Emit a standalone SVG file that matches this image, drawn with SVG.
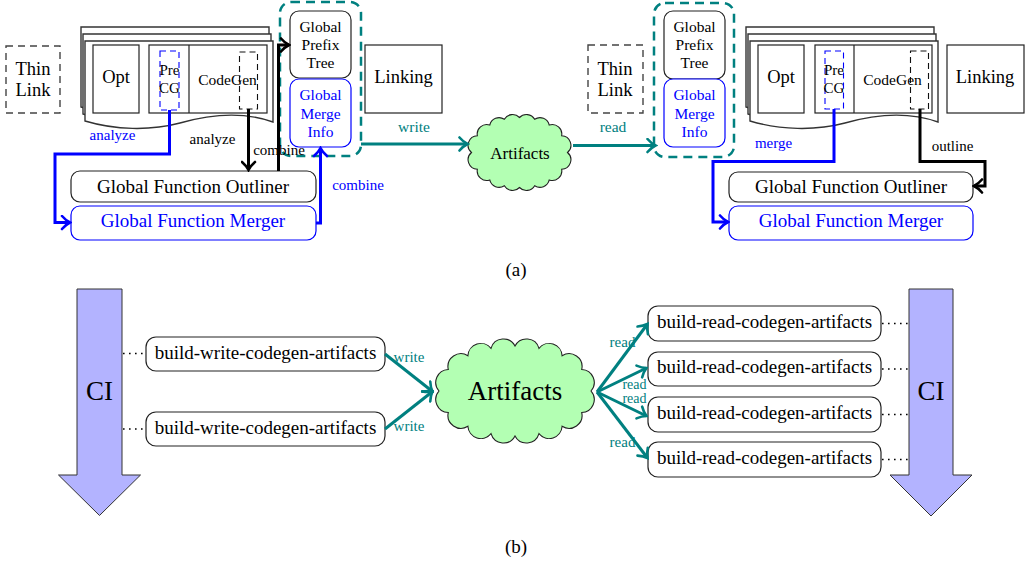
<svg xmlns="http://www.w3.org/2000/svg" width="1034" height="566" viewBox="0 0 1034 566">
<style>
text{font-family:"Liberation Serif","Times New Roman",serif;text-anchor:middle}
.k{fill:#000}
.b{fill:#0000ff}
.tl{fill:#008080}
.box{fill:#fff;stroke:#222;stroke-width:1.2}
.bbox{fill:#fff;stroke:#0000ff;stroke-width:1.2}
.thin{fill:none;stroke:#444;stroke-width:1.4;stroke-dasharray:7 5}
.sheet{fill:#fff;stroke:#333;stroke-width:1.4}
.bd{fill:none;stroke:#0000ff;stroke-width:1.1;stroke-dasharray:6 4}
.kd{fill:none;stroke:#111;stroke-width:1.1;stroke-dasharray:6 4}
.cont{fill:none;stroke:#008080;stroke-width:2.5;stroke-dasharray:9 6}
.ck{fill:none;stroke:#000;stroke-width:3}
.cb{fill:none;stroke:#0000ff;stroke-width:3}
.ct{fill:none;stroke:#008080;stroke-width:3}
.cloud{fill:#b3ffb3;stroke:#222;stroke-width:1.1}
.ci{fill:#b3b3ff;stroke:#333;stroke-width:1}
.dot{fill:none;stroke:#000;stroke-width:1.6;stroke-dasharray:1.6 4.4}
.rb{fill:#fff;stroke:#222;stroke-width:1.2}
</style>
<defs>
<marker id="ak" viewBox="-10 -8 12 16" refX="0" refY="0" markerWidth="12" markerHeight="16" orient="auto" markerUnits="userSpaceOnUse"><path d="M-8,-6.5 C-5,-3 -2,-1 0,0 C-2,1 -5,3 -8,6.5" fill="none" stroke="#000" stroke-width="2.6" stroke-linecap="round"/></marker>
<marker id="ab" viewBox="-10 -8 12 16" refX="0" refY="0" markerWidth="12" markerHeight="16" orient="auto" markerUnits="userSpaceOnUse"><path d="M-8,-6.5 C-5,-3 -2,-1 0,0 C-2,1 -5,3 -8,6.5" fill="none" stroke="#0000ff" stroke-width="2.6" stroke-linecap="round"/></marker>
<marker id="at" viewBox="-10 -8 12 16" refX="0" refY="0" markerWidth="12" markerHeight="16" orient="auto" markerUnits="userSpaceOnUse"><path d="M-8,-6.5 C-5,-3 -2,-1 0,0 C-2,1 -5,3 -8,6.5" fill="none" stroke="#008080" stroke-width="2.6" stroke-linecap="round"/></marker>
<path id="sh" d="M85,41 H273 V122 C245,112 215,113 180,123 C150,131 115,130 85,121 Z"/>
</defs>

<!-- (a) left side -->
<g id="thinlink-a1"><rect class="thin" x="6" y="46" width="54" height="67"/><text class="k" x="33" y="75" font-size="18.5">Thin</text><text class="k" x="33" y="96" font-size="18.5">Link</text></g>

<g id="stack-a1">
<use href="#sh" class="sheet" transform="translate(-4,-14)"/>
<use href="#sh" class="sheet" transform="translate(-2,-7)"/>
<use href="#sh" class="sheet"/>
<rect class="box" x="93" y="45" width="46" height="68"/><text class="k" x="116" y="83" font-size="18.5">Opt</text>
<rect class="box" x="149" y="45" width="118" height="68"/><line x1="189" y1="45" x2="189" y2="113" stroke="#222" stroke-width="1.2"/>
<rect class="bd" x="160" y="51" width="19" height="59"/>
<text class="k" x="169.5" y="75" font-size="15">Pre</text><text class="k" x="169.5" y="93" font-size="15">CG</text>
<rect class="kd" x="239.5" y="52" width="18" height="57"/>
<text class="k" x="227.5" y="85" font-size="15.5">CodeGen</text>
</g>

<g id="container-a1"><rect class="cont" x="280" y="2" width="81" height="154" rx="11"/></g>
<g id="prefix-a1"><rect class="box" x="290" y="11" width="61" height="67" rx="9"/><text class="k" x="320.5" y="32" font-size="15.5">Global</text><text class="k" x="320.5" y="50" font-size="15.5">Prefix</text><text class="k" x="320.5" y="68" font-size="15.5">Tree</text></g>
<g id="merge-a1"><rect class="bbox" x="290" y="79" width="61" height="68" rx="9"/><text class="b" x="320.5" y="100" font-size="15.5">Global</text><text class="b" x="320.5" y="118.5" font-size="15.5">Merge</text><text class="b" x="320.5" y="137" font-size="15.5">Info</text></g>

<g id="linking-a1"><rect class="box" x="365" y="45" width="77" height="68"/><text class="k" x="403.5" y="83" font-size="18.5">Linking</text></g>

<g id="outliner-a1"><rect class="box" x="71" y="171" width="245" height="31" rx="9"/><text class="k" x="193" y="193" font-size="19">Global Function Outliner</text></g>
<g id="merger-a1"><rect class="bbox" x="71" y="206" width="245" height="34" rx="9"/><text class="b" x="193" y="226.5" font-size="19">Global Function Merger</text></g>

<g id="cloud-a"><path class="cloud" d="M567.5,152.5 A9.5,9.5 0 0 1 561.64,169.25 A9.5,9.5 0 0 1 549.25,179.97 A9.5,9.5 0 0 1 534.65,185.71 A9.5,9.5 0 0 1 519.5,187.5 A9.5,9.5 0 0 1 504.35,185.71 A9.5,9.5 0 0 1 489.75,179.97 A9.5,9.5 0 0 1 477.36,169.25 A9.5,9.5 0 0 1 471.5,152.5 A9.5,9.5 0 0 1 477.36,135.75 A9.5,9.5 0 0 1 489.75,125.03 A9.5,9.5 0 0 1 504.35,119.29 A9.5,9.5 0 0 1 519.5,117.5 A9.5,9.5 0 0 1 534.65,119.29 A9.5,9.5 0 0 1 549.25,125.03 A9.5,9.5 0 0 1 561.64,135.75 A9.5,9.5 0 0 1 567.5,152.5 Z"/><text class="k" x="520" y="158.5" font-size="17">Artifacts</text></g>

<!-- (a) right side -->
<g id="thinlink-a2"><rect class="thin" x="588" y="45" width="55" height="68"/><text class="k" x="615" y="75" font-size="18.5">Thin</text><text class="k" x="615" y="96" font-size="18.5">Link</text></g>
<g id="container-a2"><rect class="cont" x="654" y="3" width="80" height="154" rx="11"/></g>
<g id="prefix-a2"><rect class="box" x="664" y="11" width="61" height="68" rx="9"/><text class="k" x="694.5" y="32" font-size="15.5">Global</text><text class="k" x="694.5" y="50" font-size="15.5">Prefix</text><text class="k" x="694.5" y="68" font-size="15.5">Tree</text></g>
<g id="merge-a2"><rect class="bbox" x="664" y="79" width="61" height="68" rx="9"/><text class="b" x="694.5" y="100" font-size="15.5">Global</text><text class="b" x="694.5" y="118.5" font-size="15.5">Merge</text><text class="b" x="694.5" y="137" font-size="15.5">Info</text></g>

<g id="stack-a2" transform="translate(665,0)">
<use href="#sh" class="sheet" transform="translate(-4,-14)"/>
<use href="#sh" class="sheet" transform="translate(-2,-7)"/>
<use href="#sh" class="sheet"/>
<rect class="box" x="93" y="45" width="46" height="68"/><text class="k" x="116" y="83" font-size="18.5">Opt</text>
<rect class="box" x="150" y="45" width="117" height="68"/><line x1="189" y1="45" x2="189" y2="113" stroke="#222" stroke-width="1.2"/>
<rect class="bd" x="160" y="51" width="18.5" height="58"/>
<text class="k" x="169" y="75" font-size="15">Pre</text><text class="k" x="169" y="93" font-size="15">CG</text>
<rect class="kd" x="245.5" y="51" width="18" height="58"/>
<text class="k" x="227.5" y="85" font-size="15.5">CodeGen</text>
</g>
<g id="linking-a2"><rect class="box" x="947" y="45" width="77" height="68"/><text class="k" x="985" y="83" font-size="18.5">Linking</text></g>

<g id="outliner-a2"><rect class="box" x="729" y="172" width="244" height="30" rx="9"/><text class="k" x="851" y="193" font-size="19">Global Function Outliner</text></g>
<g id="merger-a2"><rect class="bbox" x="729" y="206" width="244" height="34" rx="9"/><text class="b" x="851" y="227" font-size="19">Global Function Merger</text></g>

<text class="k" x="516" y="276" font-size="19">(a)</text>

<!-- (b) -->
<g id="ci-left"><polygon class="ci" points="77,289 122,289 122,475 140.5,475 99.5,515.5 58.5,475 77,475"/><text class="k" x="99.5" y="400" font-size="27">CI</text></g>
<g id="ci-right"><polygon class="ci" points="909,289 953,289 953,475 972,475 931,516 890,475 909,475"/><text class="k" x="931" y="400" font-size="27">CI</text></g>

<g id="bw1"><rect class="rb" x="146" y="337" width="239" height="34" rx="10"/><text class="k" x="265.5" y="358.5" font-size="19">build-write-codegen-artifacts</text></g>
<g id="bw2"><rect class="rb" x="146" y="412" width="239" height="34" rx="10"/><text class="k" x="265.5" y="434" font-size="19">build-write-codegen-artifacts</text></g>

<g id="cloud-b"><path class="cloud" d="M591,391 A13,13 0 0 1 581.73,412.54 A13,13 0 0 1 562.1,426.32 A13,13 0 0 1 538.99,433.7 A13,13 0 0 1 515,436 A13,13 0 0 1 491.01,433.7 A13,13 0 0 1 467.9,426.32 A13,13 0 0 1 448.27,412.54 A13,13 0 0 1 439,391 A13,13 0 0 1 448.27,369.46 A13,13 0 0 1 467.9,355.68 A13,13 0 0 1 491.01,348.3 A13,13 0 0 1 515,346 A13,13 0 0 1 538.99,348.3 A13,13 0 0 1 562.1,355.68 A13,13 0 0 1 581.73,369.46 A13,13 0 0 1 591,391 Z"/><text class="k" x="515" y="400" font-size="27">Artifacts</text></g>

<g id="br1"><rect class="rb" x="648" y="306" width="233" height="35" rx="10"/><text class="k" x="764.5" y="328" font-size="19">build-read-codegen-artifacts</text></g>
<g id="br2"><rect class="rb" x="648" y="352" width="233" height="34" rx="10"/><text class="k" x="764.5" y="373" font-size="19">build-read-codegen-artifacts</text></g>
<g id="br3"><rect class="rb" x="648" y="397" width="233" height="35" rx="10"/><text class="k" x="764.5" y="418.5" font-size="19">build-read-codegen-artifacts</text></g>
<g id="br4"><rect class="rb" x="648" y="442" width="233" height="35" rx="10"/><text class="k" x="764.5" y="463.5" font-size="19">build-read-codegen-artifacts</text></g>

<text class="k" x="516" y="553" font-size="19">(b)</text>

<g id="connectors">
<path class="cb" d="M169.5,110 V154 H55 V222.5 H70" marker-end="url(#ab)"/>
<path class="ck" d="M248.5,109 V170" marker-end="url(#ak)"/>
<path class="ck" d="M278.5,171 V45 H289" marker-end="url(#ak)"/>
<path class="cb" d="M316,223 H320.5 V148" marker-end="url(#ab)"/>
<path class="ct" d="M361,144 H467.5" marker-end="url(#at)"/>
<path class="ct" d="M573,145.5 H655.5" marker-end="url(#at)"/>
<path class="cb" d="M834,109 V161.5 H713 V222 H728" marker-end="url(#ab)"/>
<path class="ck" d="M920,109 V161.5 H985 V186 H974" marker-end="url(#ak)"/>
<path class="dot" d="M123,353.5 H146 M123,429 H146"/>
<path class="dot" d="M882,323.5 H909 M882,369 H909 M882,414.5 H909 M882,459.5 H909"/>
<path class="ct" d="M385,354 L432.5,391.5" marker-end="url(#at)"/>
<path class="ct" d="M385,429 L432.5,391.5" marker-end="url(#at)"/>
<path class="ct" d="M597,392 L647.5,324" marker-end="url(#at)"/>
<path class="ct" d="M597,392 L646.5,368" marker-end="url(#at)"/>
<path class="ct" d="M597,392 L646.5,416" marker-end="url(#at)"/>
<path class="ct" d="M597,392 L647.5,458" marker-end="url(#at)"/>
</g>

<g id="labels">
<text class="b" x="112.5" y="140" font-size="15">analyze</text>
<text class="k" x="212.5" y="143.5" font-size="15">analyze</text>
<text class="k" x="279" y="155" font-size="15">combine</text>
<text class="b" x="358" y="190" font-size="15">combine</text>
<text class="tl" x="414" y="132" font-size="15.5">write</text>
<text class="tl" x="613" y="132" font-size="15.5">read</text>
<text class="b" x="773.5" y="147.5" font-size="15">merge</text>
<text class="k" x="952.5" y="151" font-size="15">outline</text>
<text class="tl" x="409" y="362" font-size="15">write</text>
<text class="tl" x="409" y="431" font-size="15">write</text>
<text class="tl" x="622.5" y="347" font-size="15">read</text>
<text class="tl" x="634.5" y="389" font-size="14">read</text>
<text class="tl" x="634.5" y="403" font-size="14">read</text>
<text class="tl" x="622.5" y="447" font-size="15">read</text>
</g>
</svg>
